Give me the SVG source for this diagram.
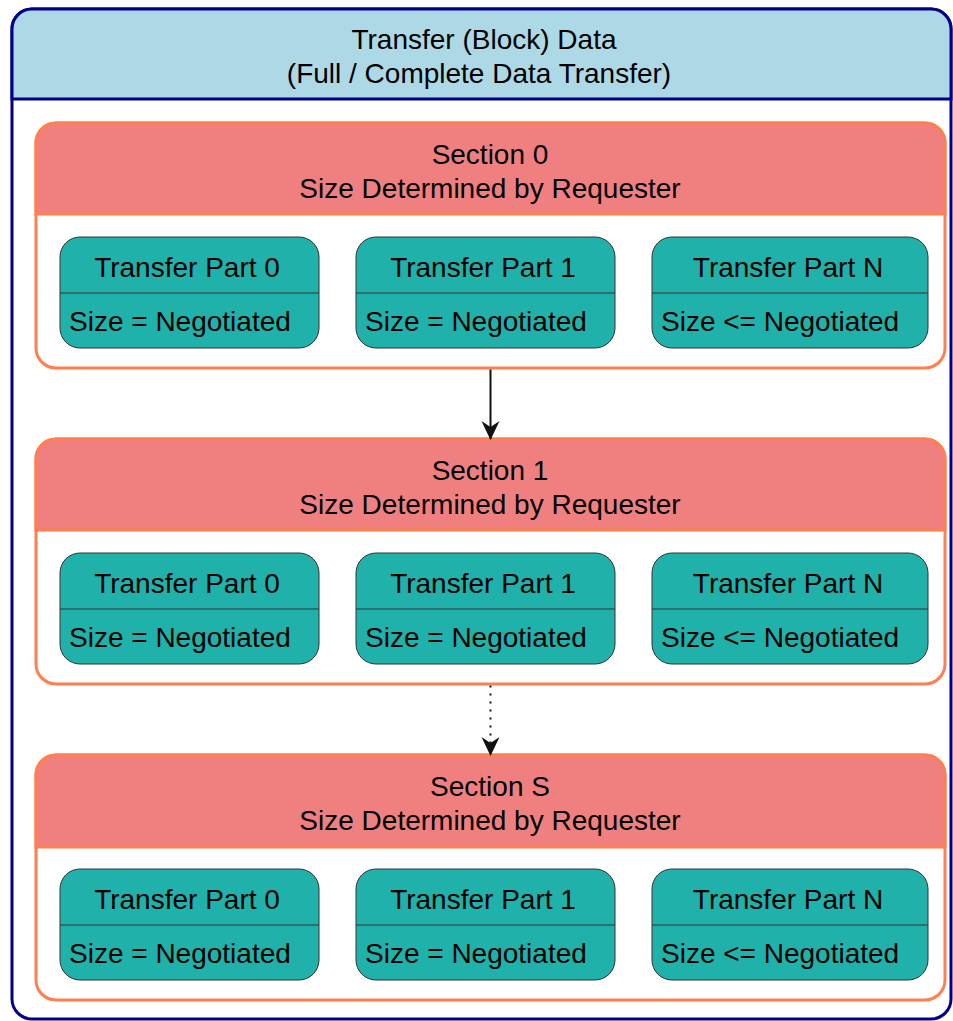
<svg xmlns="http://www.w3.org/2000/svg" width="953" height="1021" viewBox="0 0 953 1021">
<defs>
<style>
text{font-family:"Liberation Sans",Arial,sans-serif;font-size:28px;fill:#000}
.c{text-anchor:middle}
.outer{fill:#fff;stroke:#00008B;stroke-width:3}
.ohead{fill:#ADD8E6;stroke:#00008B;stroke-width:3}
.sec{fill:#fff;stroke:#FF7F50;stroke-width:3}
.shead{fill:#F08080;stroke:#FF7F50;stroke-width:3}
.part{fill:#20B2AA;stroke:#333;stroke-width:1}
.div{stroke:#333;stroke-width:1}
.edge{stroke:#111;stroke-width:2;fill:none}
</style>
<marker id="arr" viewBox="0 0 20 22" refX="18" refY="11" markerWidth="20" markerHeight="22" markerUnits="userSpaceOnUse" orient="auto">
<path d="M19,11 L0,2 L6,11 L0,20 Z" fill="#111"/>
</marker>
</defs>
<g id="outer">
<rect class="outer" x="12" y="9" width="939" height="1010" rx="20"/>
<path class="ohead" d="M12,99 V29 A20,20 0 0 1 32,9 H931 A20,20 0 0 1 951,29 V99 Z"/>
<text class="c" x="484" y="48.5">Transfer (Block) Data</text>
<text class="c" x="479" y="82.5">(Full / Complete Data Transfer)</text>
</g>
<g id="section0">
<rect class="sec" x="36" y="123" width="909" height="245" rx="20"/>
<path class="shead" d="M36,214 V143 A20,20 0 0 1 56,123 H925 A20,20 0 0 1 945,143 V214 Z"/>
<text class="c" x="490" y="163.5">Section 0</text>
<text class="c" x="490" y="197.5">Size Determined by Requester</text>
</g>
<g id="s0p0"><rect class="part" x="60" y="237" width="259" height="111" rx="20"/><line class="div" x1="60" y1="293" x2="319" y2="293"/><text class="c" x="187" y="277">Transfer Part 0</text><text x="69" y="331">Size = Negotiated</text></g>
<g id="s0p1"><rect class="part" x="356" y="237" width="259" height="111" rx="20"/><line class="div" x1="356" y1="293" x2="615" y2="293"/><text class="c" x="483" y="277">Transfer Part 1</text><text x="365" y="331">Size = Negotiated</text></g>
<g id="s0pN"><rect class="part" x="652" y="237" width="276" height="111" rx="20"/><line class="div" x1="652" y1="293" x2="928" y2="293"/><text class="c" x="788" y="277">Transfer Part N</text><text x="661" y="331">Size &lt;= Negotiated</text></g>
<g id="section1">
<rect class="sec" x="36" y="439" width="909" height="245" rx="20"/>
<path class="shead" d="M36,530 V459 A20,20 0 0 1 56,439 H925 A20,20 0 0 1 945,459 V530 Z"/>
<text class="c" x="490" y="479.5">Section 1</text>
<text class="c" x="490" y="513.5">Size Determined by Requester</text>
</g>
<g id="s1p0"><rect class="part" x="60" y="553" width="259" height="111" rx="20"/><line class="div" x1="60" y1="609" x2="319" y2="609"/><text class="c" x="187" y="593">Transfer Part 0</text><text x="69" y="647">Size = Negotiated</text></g>
<g id="s1p1"><rect class="part" x="356" y="553" width="259" height="111" rx="20"/><line class="div" x1="356" y1="609" x2="615" y2="609"/><text class="c" x="483" y="593">Transfer Part 1</text><text x="365" y="647">Size = Negotiated</text></g>
<g id="s1pN"><rect class="part" x="652" y="553" width="276" height="111" rx="20"/><line class="div" x1="652" y1="609" x2="928" y2="609"/><text class="c" x="788" y="593">Transfer Part N</text><text x="661" y="647">Size &lt;= Negotiated</text></g>
<g id="sectionS">
<rect class="sec" x="36" y="755" width="909" height="245" rx="20"/>
<path class="shead" d="M36,847 V775 A20,20 0 0 1 56,755 H925 A20,20 0 0 1 945,775 V847 Z"/>
<text class="c" x="490" y="795.5">Section S</text>
<text class="c" x="490" y="829.5">Size Determined by Requester</text>
</g>
<g id="sSp0"><rect class="part" x="60" y="869" width="259" height="111" rx="20"/><line class="div" x1="60" y1="925" x2="319" y2="925"/><text class="c" x="187" y="909">Transfer Part 0</text><text x="69" y="963">Size = Negotiated</text></g>
<g id="sSp1"><rect class="part" x="356" y="869" width="259" height="111" rx="20"/><line class="div" x1="356" y1="925" x2="615" y2="925"/><text class="c" x="483" y="909">Transfer Part 1</text><text x="365" y="963">Size = Negotiated</text></g>
<g id="sSpN"><rect class="part" x="652" y="869" width="276" height="111" rx="20"/><line class="div" x1="652" y1="925" x2="928" y2="925"/><text class="c" x="788" y="909">Transfer Part N</text><text x="661" y="963">Size &lt;= Negotiated</text></g>
<g id="connectors">
<line class="edge" x1="490.5" y1="369.5" x2="490.5" y2="439" marker-end="url(#arr)"/>
<line class="edge" x1="490.5" y1="685.5" x2="490.5" y2="755" stroke-dasharray="2,6" marker-end="url(#arr)"/>
</g>
</svg>
